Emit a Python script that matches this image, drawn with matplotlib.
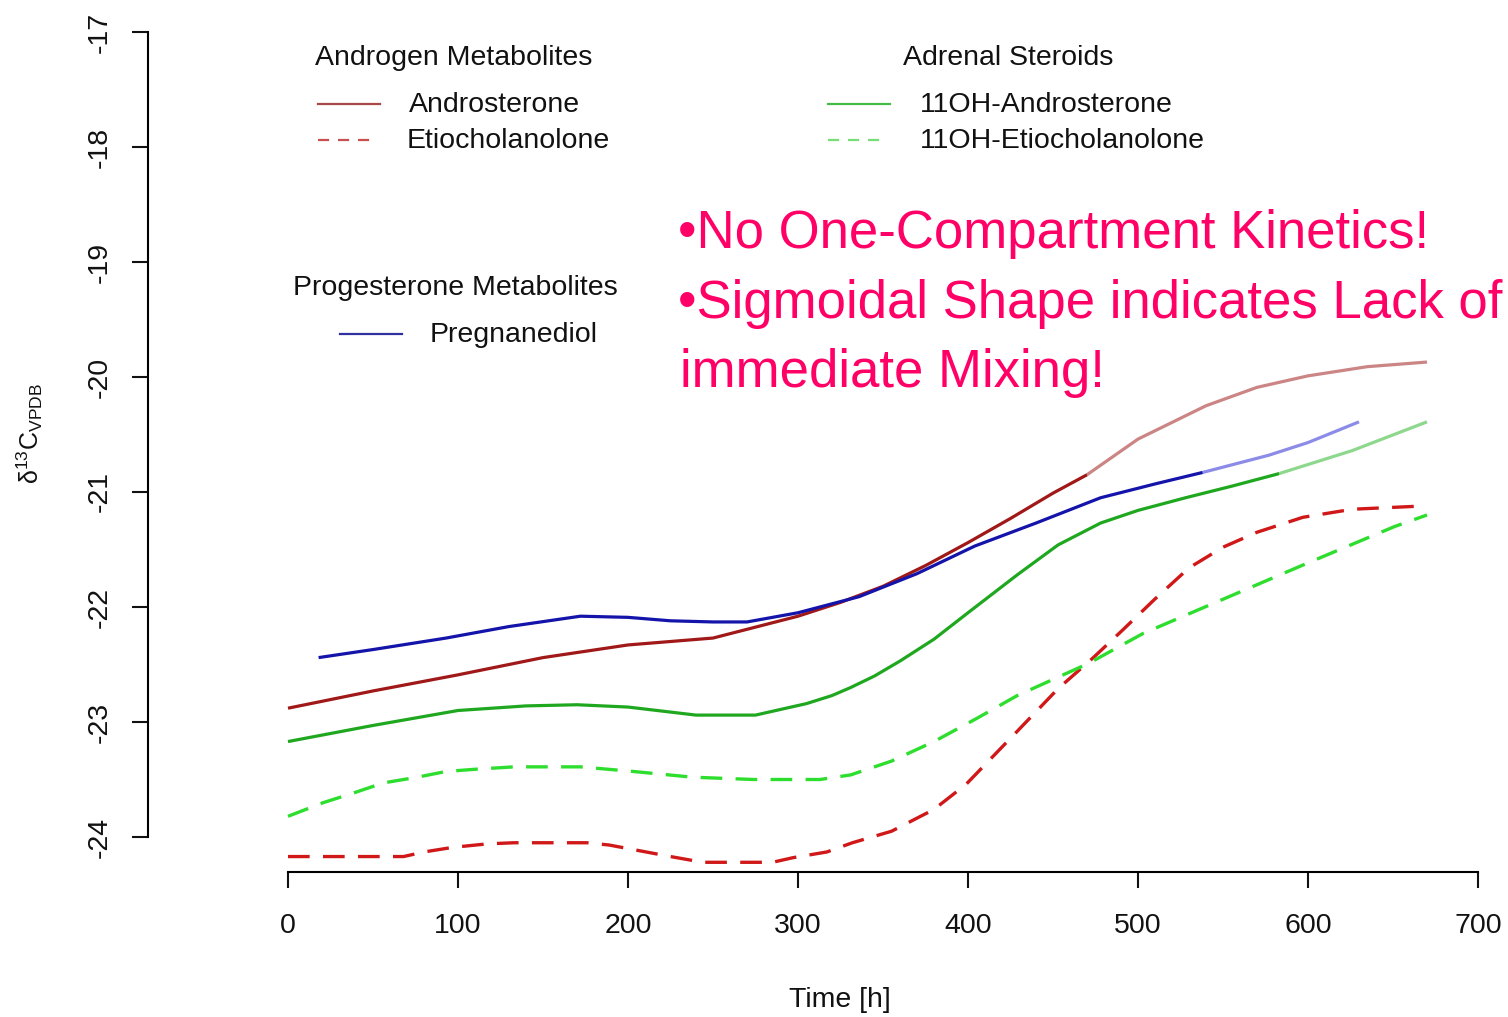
import matplotlib
matplotlib.use("Agg")
import matplotlib.pyplot as plt
from matplotlib.lines import Line2D

plt.rcParams["font.family"] = ["Liberation Sans", "DejaVu Sans"]

# delta 13C (VPDB) of urinary steroids over time [h]
andro_x = [0, 50, 100, 150, 200, 250, 300, 325, 350, 375, 400, 425, 450, 470, 500, 540, 570,
           600, 635, 670]
andro_y = [-22.88, -22.73, -22.59, -22.44, -22.33, -22.27, -22.08, -21.96, -21.82, -21.64,
           -21.44, -21.23, -21.01, -20.85, -20.54, -20.25, -20.09, -19.99, -19.91, -19.87]
andro_split = 470

etio_x = [0, 68, 80, 97, 117, 133, 176, 189, 207, 225, 244, 285, 297, 317, 332, 355, 380,
          399, 429, 453, 473, 491, 510, 530, 550, 570, 597, 626, 670]
etio_y = [-24.17, -24.17, -24.13, -24.09, -24.06, -24.05, -24.05, -24.07, -24.12, -24.17,
          -24.22, -24.22, -24.18, -24.13, -24.05, -23.95, -23.76, -23.54, -23.08, -22.71,
          -22.45, -22.20, -21.93, -21.66, -21.48, -21.35, -21.22, -21.15, -21.12]

oh_andro_x = [0, 50, 100, 140, 170, 200, 240, 275, 305, 320, 331, 345, 360, 380, 400, 429,
              453, 478, 500, 528, 555, 583, 626, 670]
oh_andro_y = [-23.17, -23.03, -22.90, -22.86, -22.85, -22.87, -22.94, -22.94, -22.84, -22.77,
              -22.70, -22.60, -22.47, -22.28, -22.05, -21.72, -21.46, -21.27, -21.16, -21.05,
              -20.95, -20.84, -20.64, -20.39]
oh_andro_split = 583

oh_etio_x = [0, 21, 38, 56, 76, 93, 111, 133, 172, 203, 238, 274, 313, 331, 355, 380, 405,
             429, 450, 471, 503, 552, 601, 651, 670]
oh_etio_y = [-23.82, -23.70, -23.62, -23.53, -23.48, -23.43, -23.41, -23.39, -23.39, -23.43,
             -23.48, -23.50, -23.50, -23.46, -23.34, -23.17, -22.97, -22.77, -22.63, -22.49,
             -22.23, -21.92, -21.61, -21.30, -21.20]

preg_x = [18, 50, 93, 130, 172, 200, 225, 250, 270, 300, 336, 370, 404, 440, 478, 510, 538,
          577, 600, 630]
preg_y = [-22.44, -22.37, -22.27, -22.17, -22.08, -22.09, -22.12, -22.13, -22.13, -22.05,
          -21.91, -21.71, -21.47, -21.27, -21.05, -20.93, -20.83, -20.68, -20.57, -20.39]
preg_split = 538

x_ticks = [0, 100, 200, 300, 400, 500, 600, 700]
y_ticks = [-24, -23, -22, -21, -20, -19, -18, -17]

notes = ["\u2022No One-Compartment Kinetics!",
         "\u2022Sigmoidal Shape indicates Lack of",
         "immediate Mixing!"]

W, H = 1508, 1017
fig = plt.figure(figsize=(W / 100, H / 100), dpi=100)

# axes box in pixels: left 148, right 1500, top 20, bottom 872
ax = fig.add_axes([148 / W, (H - 872) / H, 1352 / W, 852 / H])
ax.set_xlim(-140 / 1.7, 1212 / 1.7)
ax.set_ylim(-17 - 840 / 115, -17 + 12 / 115)


def split_line(xs, ys, cut, dark, pale):
    head = [(x, y) for x, y in zip(xs, ys) if x <= cut]
    tail = [(x, y) for x, y in zip(xs, ys) if x >= cut]
    ax.plot(*zip(*tail), color=pale, lw=2.3, solid_capstyle="butt")
    ax.plot(*zip(*head), color=dark, lw=2.3, solid_capstyle="butt")


ax.plot(etio_x, etio_y, color="#d01818", lw=2.4, dashes=(6.5, 4))
ax.plot(oh_etio_x, oh_etio_y, color="#2ede2e", lw=2.4, dashes=(6.5, 4))
split_line(oh_andro_x, oh_andro_y, oh_andro_split, "#1fa81f", "#8ed88e")
split_line(andro_x, andro_y, andro_split, "#a01818", "#cc8585")
split_line(preg_x, preg_y, preg_split, "#1414aa", "#8c8ce8")

# R-style detached axes
for side in ["top", "right"]:
    ax.spines[side].set_visible(False)
ax.spines["left"].set_bounds(-24, -17)
ax.spines["bottom"].set_bounds(0, 700)
for side in ["left", "bottom"]:
    ax.spines[side].set_linewidth(1.5)

ax.set_xticks(x_ticks)
ax.set_yticks(y_ticks)
ax.set_xticklabels([str(v) for v in x_ticks])
ax.set_yticklabels([str(v) for v in y_ticks], rotation=90, va="center")
ax.tick_params(axis="both", direction="out", length=11.5, width=1.5, labelsize=20.5,
               color="#111111", labelcolor="#111111")
ax.tick_params(axis="x", pad=18)
ax.tick_params(axis="y", pad=14)

fig.text(840 / W, 1 - 1000 / H, "Time [h]", fontsize=20.5, ha="center", va="center",
         color="#111111")
fig.text(30 / W, 1 - 433 / H, r"$\mathregular{\delta^{13}C_{VPDB}}$", fontsize=18,
         rotation=90, ha="center", va="center", color="#111111")


def fx(px):
    return px / W


def fy(py):
    return 1 - py / H


def key_line(x0, x1, y, color, dashed=False):
    ln = Line2D([fx(x0), fx(x1)], [fy(y), fy(y)], transform=fig.transFigure,
                color=color, lw=1.6)
    if dashed:
        ln.set_dashes((5, 4))
    fig.add_artist(ln)


def key_text(x, y, s):
    fig.text(fx(x), fy(y), s, fontsize=20.5, ha="left", va="center", color="#111111")


# legend groups
key_text(315, 58, "Androgen Metabolites")
key_line(318, 380, 104, "#a84848")
key_text(409, 105, "Androsterone")
key_line(318, 378, 140, "#c85050", dashed=True)
key_text(407, 141, "Etiocholanolone")

key_text(903, 58, "Adrenal Steroids")
key_line(828, 890, 104, "#44bb44")
key_text(920, 105, "11OH-Androsterone")
key_line(828, 888, 140, "#77dd77", dashed=True)
key_text(920, 141, "11OH-Etiocholanolone")

key_text(293, 288, "Progesterone Metabolites")
key_line(340, 402, 334, "#3030a0")
key_text(430, 335, "Pregnanediol")

# remarks
for (px, py), s in zip([(678, 248), (678, 318), (680, 387)], notes):
    fig.text(fx(px), fy(py), s, fontsize=38, ha="left", va="baseline", color="#ff0066")

fig.savefig("out.png", dpi=100)
